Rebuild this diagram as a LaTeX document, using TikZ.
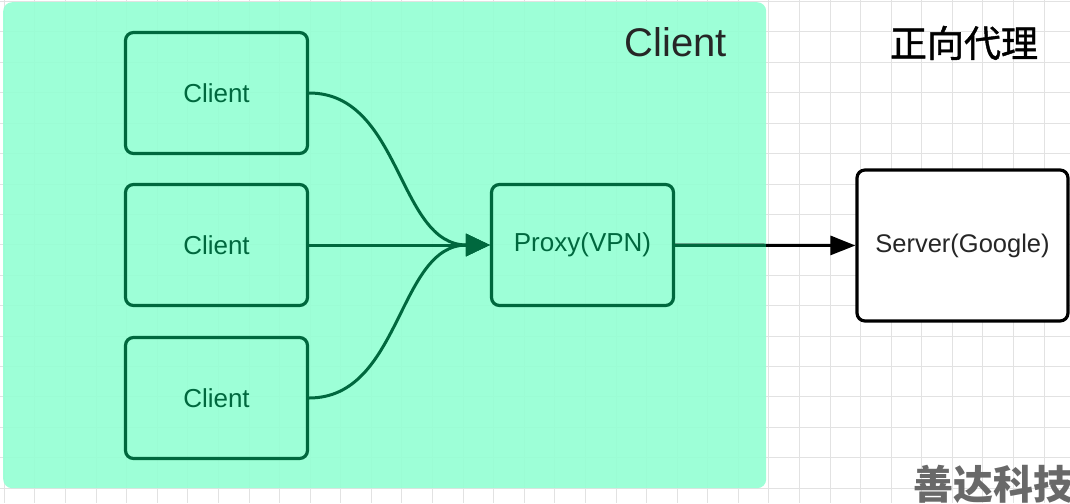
\documentclass[tikz,border=0pt]{standalone}
\usepackage{fontspec}
\setmainfont{Liberation Sans}
\newfontfamily\cjk{Noto Sans CJK SC}
\newfontfamily\cjkmed[FakeBold=1.2]{Noto Sans CJK SC}
\usetikzlibrary{arrows.meta}
\definecolor{mint}{RGB}{150,255,212}
\definecolor{dgreen}{RGB}{0,104,62}
\definecolor{gridgray}{RGB}{226,226,226}
\definecolor{wmgray}{RGB}{105,105,105}
\tikzset{
  clientbox/.style={draw=dgreen, line width=3.2pt, rounded corners=8pt, minimum width=182pt, minimum height=121pt, text=dgreen, font=\fontsize{26}{30}\selectfont, inner sep=0pt},
  serverbox/.style={draw=black, fill=white, line width=3.2pt, rounded corners=8pt, minimum width=211pt, minimum height=151pt, text=black!85, font=\fontsize{25.5}{30}\selectfont, inner sep=0pt},
  conn/.style={draw=dgreen, line width=3pt, -{Triangle[length=24pt,width=22pt]}},
  blackconn/.style={draw=black, line width=3pt, -{Triangle[length=25pt,width=19pt]}},
}
\begin{document}
\begin{tikzpicture}[x=1pt,y=-1pt]
\useasboundingbox (0,0) rectangle (1070,503);
\fill[white] (0,0) rectangle (1070,503);
% grid
\foreach \i in {0,...,35} {
  \draw[gridgray, line width=1pt] ({4.4+30.58*\i},0) -- ({4.4+30.58*\i},503);
}
\foreach \j in {0,...,16} {
  \draw[gridgray, line width=1pt] (0,{1.6+30.4*\j}) -- (1070,{1.6+30.4*\j});
}
% client region
\node[fill=mint, fill opacity=0.93, rounded corners=9pt, minimum width=763pt, minimum height=486pt, inner sep=0pt, anchor=north west] (region) at (3,2) {};
\node[text=black!85, font=\fontsize{40}{44}\selectfont] (regionlabel) at (676,42) {Client};
% title
\node[font=\cjkmed\fontsize{37}{40}\selectfont] (title) at (964,43) {正向代理};
% boxes
\node[clientbox] (c1) at (216.5,93) {Client};
\node[clientbox] (c2) at (216.5,245) {Client};
\node[clientbox] (c3) at (216.5,398) {Client};
\node[clientbox] (proxy) at (582.5,245) {Proxy(VPN)};
\node[serverbox] (server) at (962.5,245.5) {Server(Google)};
% connectors
\draw[conn] (c1.east) to[out=0,in=180] (proxy.west);
\draw[conn] (c2.east) -- (proxy.west);
\draw[conn] (c3.east) to[out=0,in=180] (proxy.west);
\draw[blackconn] (proxy.east) -- (server.west);
\coordinate (edge) at (proxy.east -| region.east);
\draw[dgreen, line width=3pt] (proxy.east) -- (edge);
% watermark
\node[text=wmgray, font=\cjk\bfseries\fontsize{40}{44}\selectfont] (wm) at (993,484) {善达科技};
\end{tikzpicture}
\end{document}
